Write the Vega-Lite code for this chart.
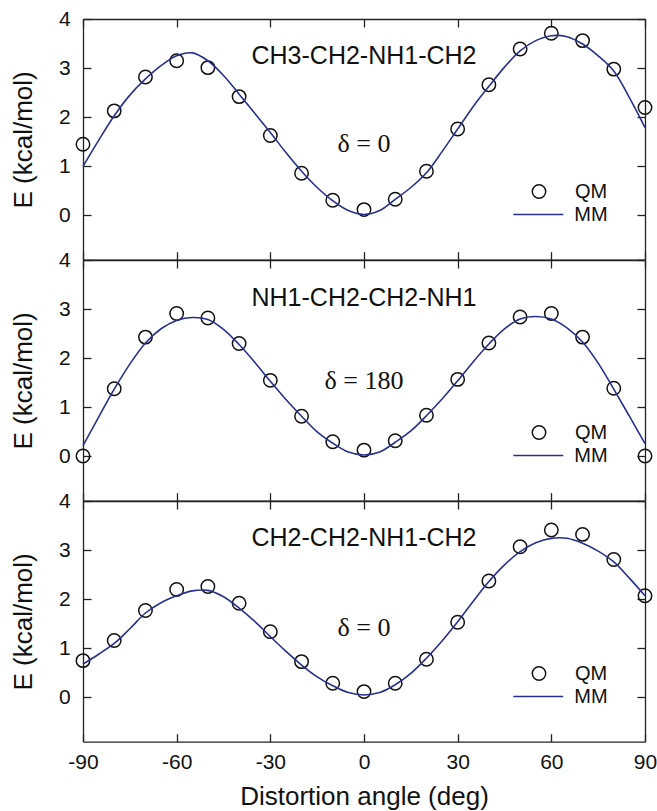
{
  "$schema": "https://vega.github.io/schema/vega-lite/v6.json",
  "background": "white",
  "padding": {"left": 10, "top": 8, "right": 0, "bottom": 0},
  "datasets": {
    "qm": [
      {"panel": "top", "angle": -90, "E": 1.45}, {"panel": "top", "angle": -80, "E": 2.13}, {"panel": "top", "angle": -70, "E": 2.82}, {"panel": "top", "angle": -60, "E": 3.15}, {"panel": "top", "angle": -50, "E": 3.01}, {"panel": "top", "angle": -40, "E": 2.42}, {"panel": "top", "angle": -30, "E": 1.63}, {"panel": "top", "angle": -20, "E": 0.86}, {"panel": "top", "angle": -10, "E": 0.31}, {"panel": "top", "angle": 0, "E": 0.12}, {"panel": "top", "angle": 10, "E": 0.33}, {"panel": "top", "angle": 20, "E": 0.9}, {"panel": "top", "angle": 30, "E": 1.76}, {"panel": "top", "angle": 40, "E": 2.66}, {"panel": "top", "angle": 50, "E": 3.39}, {"panel": "top", "angle": 60, "E": 3.71}, {"panel": "top", "angle": 70, "E": 3.56}, {"panel": "top", "angle": 80, "E": 2.98}, {"panel": "top", "angle": 90, "E": 2.2},
      {"panel": "mid", "angle": -90, "E": 0.01}, {"panel": "mid", "angle": -80, "E": 1.38}, {"panel": "mid", "angle": -70, "E": 2.43}, {"panel": "mid", "angle": -60, "E": 2.91}, {"panel": "mid", "angle": -50, "E": 2.82}, {"panel": "mid", "angle": -40, "E": 2.3}, {"panel": "mid", "angle": -30, "E": 1.55}, {"panel": "mid", "angle": -20, "E": 0.82}, {"panel": "mid", "angle": -10, "E": 0.3}, {"panel": "mid", "angle": 0, "E": 0.13}, {"panel": "mid", "angle": 10, "E": 0.32}, {"panel": "mid", "angle": 20, "E": 0.84}, {"panel": "mid", "angle": 30, "E": 1.57}, {"panel": "mid", "angle": 40, "E": 2.31}, {"panel": "mid", "angle": 50, "E": 2.84}, {"panel": "mid", "angle": 60, "E": 2.91}, {"panel": "mid", "angle": 70, "E": 2.43}, {"panel": "mid", "angle": 80, "E": 1.39}, {"panel": "mid", "angle": 90, "E": 0.01},
      {"panel": "bot", "angle": -90, "E": 0.75}, {"panel": "bot", "angle": -80, "E": 1.16}, {"panel": "bot", "angle": -70, "E": 1.77}, {"panel": "bot", "angle": -60, "E": 2.2}, {"panel": "bot", "angle": -50, "E": 2.26}, {"panel": "bot", "angle": -40, "E": 1.92}, {"panel": "bot", "angle": -30, "E": 1.34}, {"panel": "bot", "angle": -20, "E": 0.73}, {"panel": "bot", "angle": -10, "E": 0.29}, {"panel": "bot", "angle": 0, "E": 0.12}, {"panel": "bot", "angle": 10, "E": 0.29}, {"panel": "bot", "angle": 20, "E": 0.78}, {"panel": "bot", "angle": 30, "E": 1.53}, {"panel": "bot", "angle": 40, "E": 2.37}, {"panel": "bot", "angle": 50, "E": 3.07}, {"panel": "bot", "angle": 60, "E": 3.41}, {"panel": "bot", "angle": 70, "E": 3.32}, {"panel": "bot", "angle": 80, "E": 2.81}, {"panel": "bot", "angle": 90, "E": 2.07}
    ],
    "mm": [
      {"panel": "top", "angle": -90, "E": 1.0}, {"panel": "top", "angle": -85, "E": 1.53}, {"panel": "top", "angle": -80, "E": 2.03}, {"panel": "top", "angle": -75, "E": 2.45}, {"panel": "top", "angle": -70, "E": 2.78}, {"panel": "top", "angle": -65, "E": 3.05}, {"panel": "top", "angle": -60, "E": 3.25}, {"panel": "top", "angle": -55, "E": 3.31}, {"panel": "top", "angle": -50, "E": 3.15}, {"panel": "top", "angle": -45, "E": 2.85}, {"panel": "top", "angle": -40, "E": 2.47}, {"panel": "top", "angle": -35, "E": 2.08}, {"panel": "top", "angle": -30, "E": 1.69}, {"panel": "top", "angle": -25, "E": 1.28}, {"panel": "top", "angle": -20, "E": 0.9}, {"panel": "top", "angle": -15, "E": 0.57}, {"panel": "top", "angle": -10, "E": 0.3}, {"panel": "top", "angle": -5, "E": 0.1}, {"panel": "top", "angle": 0, "E": 0.02}, {"panel": "top", "angle": 5, "E": 0.1}, {"panel": "top", "angle": 10, "E": 0.33}, {"panel": "top", "angle": 15, "E": 0.57}, {"panel": "top", "angle": 20, "E": 0.87}, {"panel": "top", "angle": 25, "E": 1.3}, {"panel": "top", "angle": 30, "E": 1.76}, {"panel": "top", "angle": 35, "E": 2.22}, {"panel": "top", "angle": 40, "E": 2.63}, {"panel": "top", "angle": 45, "E": 3.02}, {"panel": "top", "angle": 50, "E": 3.35}, {"panel": "top", "angle": 55, "E": 3.56}, {"panel": "top", "angle": 60, "E": 3.66}, {"panel": "top", "angle": 65, "E": 3.64}, {"panel": "top", "angle": 70, "E": 3.49}, {"panel": "top", "angle": 75, "E": 3.25}, {"panel": "top", "angle": 80, "E": 2.94}, {"panel": "top", "angle": 85, "E": 2.4}, {"panel": "top", "angle": 90, "E": 1.79},
      {"panel": "mid", "angle": -90, "E": 0.22}, {"panel": "mid", "angle": -85, "E": 0.8}, {"panel": "mid", "angle": -80, "E": 1.37}, {"panel": "mid", "angle": -75, "E": 1.88}, {"panel": "mid", "angle": -70, "E": 2.31}, {"panel": "mid", "angle": -65, "E": 2.6}, {"panel": "mid", "angle": -60, "E": 2.77}, {"panel": "mid", "angle": -55, "E": 2.83}, {"panel": "mid", "angle": -50, "E": 2.79}, {"panel": "mid", "angle": -45, "E": 2.59}, {"panel": "mid", "angle": -40, "E": 2.28}, {"panel": "mid", "angle": -35, "E": 1.92}, {"panel": "mid", "angle": -30, "E": 1.53}, {"panel": "mid", "angle": -25, "E": 1.16}, {"panel": "mid", "angle": -20, "E": 0.82}, {"panel": "mid", "angle": -15, "E": 0.5}, {"panel": "mid", "angle": -10, "E": 0.27}, {"panel": "mid", "angle": -5, "E": 0.09}, {"panel": "mid", "angle": 0, "E": 0.03}, {"panel": "mid", "angle": 5, "E": 0.09}, {"panel": "mid", "angle": 10, "E": 0.29}, {"panel": "mid", "angle": 15, "E": 0.52}, {"panel": "mid", "angle": 20, "E": 0.83}, {"panel": "mid", "angle": 25, "E": 1.17}, {"panel": "mid", "angle": 30, "E": 1.54}, {"panel": "mid", "angle": 35, "E": 1.93}, {"panel": "mid", "angle": 40, "E": 2.29}, {"panel": "mid", "angle": 45, "E": 2.6}, {"panel": "mid", "angle": 50, "E": 2.8}, {"panel": "mid", "angle": 55, "E": 2.85}, {"panel": "mid", "angle": 60, "E": 2.8}, {"panel": "mid", "angle": 65, "E": 2.62}, {"panel": "mid", "angle": 70, "E": 2.33}, {"panel": "mid", "angle": 75, "E": 1.9}, {"panel": "mid", "angle": 80, "E": 1.37}, {"panel": "mid", "angle": 85, "E": 0.82}, {"panel": "mid", "angle": 90, "E": 0.26},
      {"panel": "bot", "angle": -90, "E": 0.68}, {"panel": "bot", "angle": -85, "E": 0.88}, {"panel": "bot", "angle": -80, "E": 1.1}, {"panel": "bot", "angle": -75, "E": 1.4}, {"panel": "bot", "angle": -70, "E": 1.72}, {"panel": "bot", "angle": -65, "E": 1.93}, {"panel": "bot", "angle": -60, "E": 2.07}, {"panel": "bot", "angle": -55, "E": 2.17}, {"panel": "bot", "angle": -50, "E": 2.18}, {"panel": "bot", "angle": -45, "E": 2.05}, {"panel": "bot", "angle": -40, "E": 1.82}, {"panel": "bot", "angle": -35, "E": 1.55}, {"panel": "bot", "angle": -30, "E": 1.24}, {"panel": "bot", "angle": -25, "E": 0.94}, {"panel": "bot", "angle": -20, "E": 0.66}, {"panel": "bot", "angle": -15, "E": 0.42}, {"panel": "bot", "angle": -10, "E": 0.24}, {"panel": "bot", "angle": -5, "E": 0.1}, {"panel": "bot", "angle": 0, "E": 0.05}, {"panel": "bot", "angle": 5, "E": 0.1}, {"panel": "bot", "angle": 10, "E": 0.26}, {"panel": "bot", "angle": 15, "E": 0.49}, {"panel": "bot", "angle": 20, "E": 0.8}, {"panel": "bot", "angle": 25, "E": 1.15}, {"panel": "bot", "angle": 30, "E": 1.54}, {"panel": "bot", "angle": 35, "E": 1.96}, {"panel": "bot", "angle": 40, "E": 2.36}, {"panel": "bot", "angle": 45, "E": 2.7}, {"panel": "bot", "angle": 50, "E": 2.97}, {"panel": "bot", "angle": 55, "E": 3.15}, {"panel": "bot", "angle": 60, "E": 3.24}, {"panel": "bot", "angle": 65, "E": 3.24}, {"panel": "bot", "angle": 70, "E": 3.14}, {"panel": "bot", "angle": 75, "E": 2.98}, {"panel": "bot", "angle": 80, "E": 2.76}, {"panel": "bot", "angle": 85, "E": 2.43}, {"panel": "bot", "angle": 90, "E": 2.07}
    ]
  },
  "spacing": 0,
  "bounds": "flush",
  "resolve": {"scale": {"color": "independent", "shape": "independent"}, "legend": {"color": "independent", "shape": "independent"}},
  "vconcat": [
    {
      "width": 562, "height": 240.7,
      "layer": [
        {
          "data": {"name": "qm"},
          "transform": [{"filter": "datum.panel === 'top'"}],
          "mark": {"type": "point", "filled": false, "size": 180, "strokeWidth": 1.5, "opacity": 1, "color": "#111111"},
          "encoding": {
            "x": {"field": "angle", "type": "quantitative", "scale": {"domain": [-90, 90], "nice": false}, "axis": {"orient": "bottom", "values": [-90, -60, -30, 0, 30, 60, 90], "labels": false, "title": null}},
            "y": {"field": "E", "type": "quantitative", "scale": {"domain": [-0.9, 4], "nice": false}, "axis": {"orient": "left", "values": [0, 1, 2, 3, 4], "title": "E (kcal/mol)", "labelPadding": 20.7, "titlePadding": 22}},
            "shape": {"datum": "QM", "type": "nominal", "scale": {"domain": ["QM"], "range": ["circle"]},
              "legend": {"orient": "none", "legendX": 446, "legendY": 162.5, "title": null, "padding": 0, "symbolSize": 180, "symbolStrokeWidth": 1.5, "symbolStrokeColor": "#111111", "symbolFillColor": "transparent", "labelFont": "Liberation Sans", "labelFontSize": 20, "labelColor": "#111111", "labelOffset": 26}}
          }
        },
        {
          "data": {"name": "mm"},
          "transform": [{"filter": "datum.panel === 'top'"}],
          "mark": {"type": "line", "interpolate": "catmull-rom", "strokeWidth": 1.6},
          "encoding": {
            "x": {"field": "angle", "type": "quantitative", "axis": {"orient": "top", "values": [-90, -60, -30, 0, 30, 60, 90], "labels": false, "title": null}},
            "y": {"field": "E", "type": "quantitative", "axis": {"orient": "right", "values": [0, 1, 2, 3, 4], "labels": false, "title": null}},
            "color": {"datum": "MM", "type": "nominal", "scale": {"domain": ["MM"], "range": ["#28308f"]},
              "legend": {"orient": "none", "legendX": 429.3, "legendY": 169.5, "title": null, "padding": 0, "symbolType": "stroke", "symbolSize": 2500, "symbolStrokeWidth": 1.6, "labelFont": "Liberation Sans", "labelFontSize": 20, "labelColor": "#111111", "labelOffset": 10}}
          }
        },
        {
          "data": {"values": [{"label": "CH3-CH2-NH1-CH2"}]},
          "mark": {"type": "text", "font": "Liberation Sans", "fontSize": 25, "align": "center", "baseline": "middle", "color": "#111111"},
          "encoding": {"x": {"datum": 0, "axis": null}, "y": {"datum": 3.25, "axis": null}, "text": {"field": "label"}}
        },
        {
          "data": {"values": [{"label": "δ = 0"}]},
          "mark": {"type": "text", "font": "Liberation Serif", "fontSize": 26, "align": "center", "baseline": "middle", "color": "#111111"},
          "encoding": {"x": {"datum": 0, "axis": null}, "y": {"datum": 1.45, "axis": null}, "text": {"field": "label"}}
        }
      ]
    },
    {
      "width": 562, "height": 240.7,
      "layer": [
        {
          "data": {"name": "qm"},
          "transform": [{"filter": "datum.panel === 'mid'"}],
          "mark": {"type": "point", "filled": false, "size": 180, "strokeWidth": 1.5, "opacity": 1, "color": "#111111"},
          "encoding": {
            "x": {"field": "angle", "type": "quantitative", "scale": {"domain": [-90, 90], "nice": false}, "axis": {"orient": "bottom", "values": [-90, -60, -30, 0, 30, 60, 90], "labels": false, "title": null}},
            "y": {"field": "E", "type": "quantitative", "scale": {"domain": [-0.9, 4], "nice": false}, "axis": {"orient": "left", "values": [0, 1, 2, 3, 4], "title": "E (kcal/mol)", "labelPadding": 20.7, "titlePadding": 22}},
            "shape": {"datum": "QM", "type": "nominal", "scale": {"domain": ["QM"], "range": ["circle"]},
              "legend": {"orient": "none", "legendX": 446, "legendY": 162.5, "title": null, "padding": 0, "symbolSize": 180, "symbolStrokeWidth": 1.5, "symbolStrokeColor": "#111111", "symbolFillColor": "transparent", "labelFont": "Liberation Sans", "labelFontSize": 20, "labelColor": "#111111", "labelOffset": 26}}
          }
        },
        {
          "data": {"name": "mm"},
          "transform": [{"filter": "datum.panel === 'mid'"}],
          "mark": {"type": "line", "interpolate": "catmull-rom", "strokeWidth": 1.6},
          "encoding": {
            "x": {"field": "angle", "type": "quantitative", "axis": {"orient": "top", "values": [-90, -60, -30, 0, 30, 60, 90], "labels": false, "title": null}},
            "y": {"field": "E", "type": "quantitative", "axis": {"orient": "right", "values": [0, 1, 2, 3, 4], "labels": false, "title": null}},
            "color": {"datum": "MM", "type": "nominal", "scale": {"domain": ["MM"], "range": ["#28308f"]},
              "legend": {"orient": "none", "legendX": 429.3, "legendY": 169.5, "title": null, "padding": 0, "symbolType": "stroke", "symbolSize": 2500, "symbolStrokeWidth": 1.6, "labelFont": "Liberation Sans", "labelFontSize": 20, "labelColor": "#111111", "labelOffset": 10}}
          }
        },
        {
          "data": {"values": [{"label": "NH1-CH2-CH2-NH1"}]},
          "mark": {"type": "text", "font": "Liberation Sans", "fontSize": 25, "align": "center", "baseline": "middle", "color": "#111111"},
          "encoding": {"x": {"datum": 0, "axis": null}, "y": {"datum": 3.23, "axis": null}, "text": {"field": "label"}}
        },
        {
          "data": {"values": [{"label": "δ = 180"}]},
          "mark": {"type": "text", "font": "Liberation Serif", "fontSize": 26, "align": "center", "baseline": "middle", "color": "#111111"},
          "encoding": {"x": {"datum": 0, "axis": null}, "y": {"datum": 1.53, "axis": null}, "text": {"field": "label"}}
        }
      ]
    },
    {
      "width": 562, "height": 240.7,
      "layer": [
        {
          "data": {"name": "qm"},
          "transform": [{"filter": "datum.panel === 'bot'"}],
          "mark": {"type": "point", "filled": false, "size": 180, "strokeWidth": 1.5, "opacity": 1, "color": "#111111"},
          "encoding": {
            "x": {"field": "angle", "type": "quantitative", "scale": {"domain": [-90, 90], "nice": false}, "axis": {"orient": "bottom", "values": [-90, -60, -30, 0, 30, 60, 90], "labels": true, "labelExpr": "'' + datum.value", "title": "Distortion angle (deg)", "labelPadding": 18, "titlePadding": 11}},
            "y": {"field": "E", "type": "quantitative", "scale": {"domain": [-0.9, 4], "nice": false}, "axis": {"orient": "left", "values": [0, 1, 2, 3, 4], "title": "E (kcal/mol)", "labelPadding": 20.7, "titlePadding": 22}},
            "shape": {"datum": "QM", "type": "nominal", "scale": {"domain": ["QM"], "range": ["circle"]},
              "legend": {"orient": "none", "legendX": 446, "legendY": 162.5, "title": null, "padding": 0, "symbolSize": 180, "symbolStrokeWidth": 1.5, "symbolStrokeColor": "#111111", "symbolFillColor": "transparent", "labelFont": "Liberation Sans", "labelFontSize": 20, "labelColor": "#111111", "labelOffset": 26}}
          }
        },
        {
          "data": {"name": "mm"},
          "transform": [{"filter": "datum.panel === 'bot'"}],
          "mark": {"type": "line", "interpolate": "catmull-rom", "strokeWidth": 1.6},
          "encoding": {
            "x": {"field": "angle", "type": "quantitative", "axis": {"orient": "top", "values": [-90, -60, -30, 0, 30, 60, 90], "labels": false, "title": null}},
            "y": {"field": "E", "type": "quantitative", "axis": {"orient": "right", "values": [0, 1, 2, 3, 4], "labels": false, "title": null}},
            "color": {"datum": "MM", "type": "nominal", "scale": {"domain": ["MM"], "range": ["#28308f"]},
              "legend": {"orient": "none", "legendX": 429.3, "legendY": 169.5, "title": null, "padding": 0, "symbolType": "stroke", "symbolSize": 2500, "symbolStrokeWidth": 1.6, "labelFont": "Liberation Sans", "labelFontSize": 20, "labelColor": "#111111", "labelOffset": 10}}
          }
        },
        {
          "data": {"values": [{"label": "CH2-CH2-NH1-CH2"}]},
          "mark": {"type": "text", "font": "Liberation Sans", "fontSize": 25, "align": "center", "baseline": "middle", "color": "#111111"},
          "encoding": {"x": {"datum": 0, "axis": null}, "y": {"datum": 3.24, "axis": null}, "text": {"field": "label"}}
        },
        {
          "data": {"values": [{"label": "δ = 0"}]},
          "mark": {"type": "text", "font": "Liberation Serif", "fontSize": 26, "align": "center", "baseline": "middle", "color": "#111111"},
          "encoding": {"x": {"datum": 0, "axis": null}, "y": {"datum": 1.42, "axis": null}, "text": {"field": "label"}}
        }
      ]
    }
  ],
  "config": {
    "view": {"stroke": null},
    "axis": {"domainColor": "#222222", "domainWidth": 1.3, "tickColor": "#222222", "tickWidth": 1.3, "tickSize": -8, "labelFont": "Liberation Sans", "labelFontSize": 21, "labelColor": "#111111", "titleFont": "Liberation Sans", "titleFontSize": 26, "titleFontWeight": "normal", "titleColor": "#111111", "grid": false, "labelFlush": false, "labelOverlap": false}
  }
}
